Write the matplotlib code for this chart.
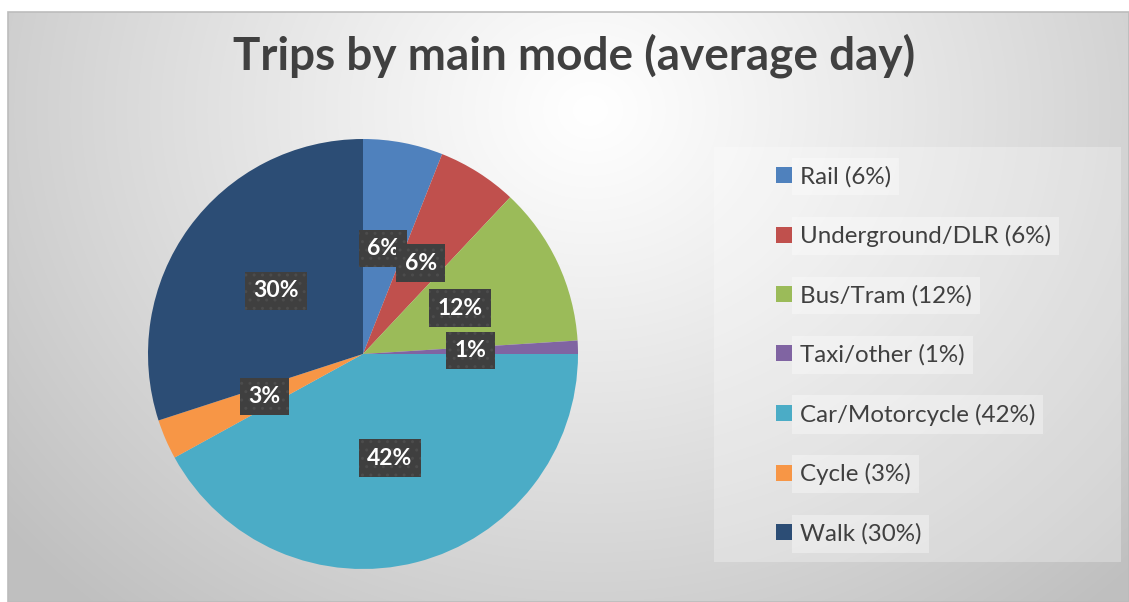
import numpy as np
import matplotlib
matplotlib.use("Agg")
import matplotlib.pyplot as plt
from matplotlib.patches import Rectangle

# ---- data ----
modes = ["Rail", "Underground/DLR", "Bus/Tram", "Taxi/other", "Car/Motorcycle", "Cycle", "Walk"]
shares = [6, 6, 12, 1, 42, 3, 30]
colors = ["#4F81BD", "#C0504D", "#9BBB59", "#8064A2", "#4BACC6", "#F79646", "#2C4D75"]
title = "Trips by main mode (average day)"

W, H = 1129, 602
DPI = 100
fig = plt.figure(figsize=(W / DPI, H / DPI), dpi=DPI)
fig.patch.set_facecolor("white")

def px(x, y, w, h):
    """pixel box (left, top, width, height) -> figure fraction rect"""
    return [x / W, 1 - (y + h) / H, w / W, h / H]

# ---- background: radial gradient chart area ----
bg = fig.add_axes([0, 0, 1, 1], zorder=0)
bg.set_axis_off()
yy, xx = np.mgrid[0:H, 0:W]
cx, cy = 590, 110
d = np.sqrt((xx - cx) ** 2 + ((yy - cy) * 1.15) ** 2) / 760.0
d = np.clip(d, 0, 1)
val = 1.0 - (1.0 - 0.75) * d ** 1.1
img = np.dstack([val, val, val])
img[:12, :, :] = 1.0
img[:, :8, :] = 1.0
bg.imshow(img, extent=[0, W, H, 0], aspect="auto", interpolation="bilinear")
bg.set_xlim(0, W)
bg.set_ylim(H, 0)
bg.add_patch(Rectangle((8, 12), W - 8, H - 12, fill=False, ec="#bcbcbc", lw=1.2))
# legend area panel
bg.add_patch(Rectangle((714, 147), 407, 415, fc="white", alpha=0.28, ec="none"))

# ---- title ----
fig.text(574 / W, 1 - 56 / H, title, ha="center", va="center",
         fontsize=33, fontweight="bold", color="#404040", family="Lato")

# ---- pie ----
R = 215
ax = fig.add_axes(px(363 - R, 354 - R, 2 * R, 2 * R), zorder=2)
wedges, texts, autotexts = ax.pie(
    shares, colors=colors, startangle=90, counterclock=False,
    autopct=lambda p: f"{p:.0f}%", pctdistance=0.5, radius=1,
    wedgeprops=dict(linewidth=0),
    textprops=dict(color="white", fontsize=16.5, fontweight="bold", family="Lato"),
)
for t in autotexts:
    t.set_bbox(dict(boxstyle="square,pad=0.36", fc="#3f3f3f", ec="#4c4c4c",
                    lw=0, hatch=".."))
ax.set_xlim(-1, 1)
ax.set_ylim(-1, 1)
ax.set_axis_off()

# ---- legend ----
labels = [f"{m} ({s}%)" for m, s in zip(modes, shares)]
leg = fig.legend(
    wedges, labels, loc="upper left",
    bbox_to_anchor=(776 / W, 1 - 166 / H),
    frameon=False, prop=dict(family="Lato", size=17.4),
    handlelength=0.66, handleheight=0.66, handletextpad=0.33,
    labelspacing=1.56, borderpad=0, borderaxespad=0,
)
for t in leg.get_texts():
    t.set_color("#404040")
    t.set_bbox(dict(boxstyle="square,pad=0.33", fc="white", alpha=0.35, ec="none"))

fig.savefig("out.png", dpi=DPI)
